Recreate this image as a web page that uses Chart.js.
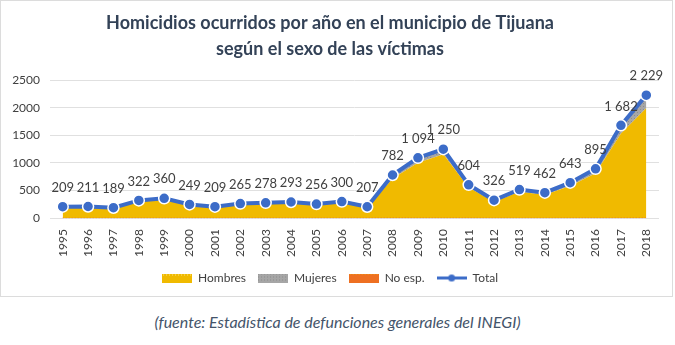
<!DOCTYPE html>
<html>
<head>
<meta charset="utf-8">
<script src="https://cdn.jsdelivr.net/npm/chart.js@4.4.0/dist/chart.umd.min.js"></script>
<style>
  body { margin: 0; background: #fff; font-family: Lato, "Open Sans", sans-serif; }
  #box { position: absolute; left: 0; top: 0; width: 671px; height: 295px; border: 1px solid #dcdcdc; }
  #note { position: absolute; left: 0; top: 312px; width: 675px; text-align: center;
          font-style: italic; font-size: 16px; color: #44546a; }
</style>
</head>
<body>
<div id="box"><canvas id="homicidiosChart" width="671" height="295"></canvas></div>
<div id="note">(fuente: Estadística de defunciones generales del INEGI)</div>
<script>
// --- data ---
const years = ['1995', '1996', '1997', '1998', '1999', '2000', '2001', '2002', '2003', '2004', '2005', '2006',
               '2007', '2008', '2009', '2010', '2011', '2012', '2013', '2014', '2015', '2016', '2017', '2018'];
const total = [209, 211, 189, 322, 360, 249, 209, 265, 278, 293, 256, 300,
               207, 782, 1094, 1250, 604, 326, 519, 462, 643, 895, 1682, 2229];
const hombres = [190, 193, 172, 300, 335, 228, 190, 243, 255, 268, 233, 274,
                 186, 715, 1000, 1155, 550, 294, 478, 420, 580, 810, 1530, 1990];
const mujeres = [18, 17, 16, 20, 23, 19, 17, 20, 21, 23, 21, 24,
                 19, 62, 90, 92, 50, 30, 39, 40, 60, 82, 148, 234];
const noEsp = [1, 1, 1, 2, 2, 2, 2, 2, 2, 2, 2, 2, 2, 5, 4, 3, 4, 2, 2, 2, 3, 3, 4, 5];
const yTicks = [0, 500, 1000, 1500, 2000, 2500];

const GOLD = '#f0ba00';
const GRAY = '#a6a6a6';
const ORANGE = '#ee7022';
const BLUE = '#3c6cc8';
const TEXT = '#404040';
const FONT = 'Lato, "Open Sans", sans-serif';

// dotted gray fill like the excel pattern
function grayPattern() {
    const c = document.createElement('canvas');
    c.width = 3; c.height = 3;
    const g = c.getContext('2d');
    g.fillStyle = GRAY; g.fillRect(0, 0, 3, 3);
    g.fillStyle = '#8c8c8c'; g.fillRect(0, 0, 1, 1);
    return g.createPattern(c, 'repeat');
}

function swatch(draw) {
    const c = document.createElement('canvas');
    c.width = 30; c.height = 9;
    draw(c.getContext('2d'));
    return c;
}
const legendImgs = {
    'Hombres': swatch(g => {
        g.fillStyle = GOLD; g.fillRect(0, 0, 30, 9);
        g.fillStyle = '#ffe680';
        for (let x = 1; x < 30; x += 3) g.fillRect(x, 1, 1, 1);
    }),
    'Mujeres': swatch(g => { g.fillStyle = grayPattern(); g.fillRect(0, 0, 30, 9); }),
    'No esp.': swatch(g => {
        g.fillStyle = ORANGE; g.fillRect(0, 0, 30, 9);
        g.fillStyle = '#f5c000';
        for (let x = 1; x < 30; x += 3) g.fillRect(x, 0, 1, 1);
    }),
    'Total': swatch(g => {
        g.strokeStyle = BLUE; g.lineWidth = 3;
        g.beginPath(); g.moveTo(0, 4.5); g.lineTo(30, 4.5); g.stroke();
        g.fillStyle = BLUE; g.beginPath(); g.arc(15, 4.5, 3.5, 0, Math.PI * 2); g.fill();
    })
};
const legendRank = { 'Hombres': 0, 'Mujeres': 1, 'No esp.': 2, 'Total': 3 };

function fmt(n) {
    return String(n).replace(/\B(?=(\d{3})+(?!\d))/g, ' ');
}

// value labels above the total points
const totalLabels = {
    id: 'totalLabels',
    afterDatasetsDraw(chart) {
        const idx = chart.data.datasets.findIndex(d => d.label === 'Total');
        const meta = chart.getDatasetMeta(idx);
        const ctx = chart.ctx;
        ctx.save();
        ctx.font = '13px ' + FONT;
        ctx.fillStyle = TEXT;
        ctx.textAlign = 'center';
        ctx.textBaseline = 'middle';
        meta.data.forEach((pt, i) => {
            ctx.fillText(fmt(total[i]), pt.x, pt.y - 19);
        });
        ctx.restore();
    }
};

const ctx = document.getElementById('homicidiosChart').getContext('2d');
const chart = new Chart(ctx, {
    type: 'line',
    data: {
        labels: years,
        datasets: [{
            label: 'No esp.',
            data: noEsp,
            stack: 'sexo',
            order: 1,
            backgroundColor: ORANGE,
            borderColor: ORANGE,
            borderWidth: 1,
            borderDash: [1, 2],
            pointRadius: 0,
            tension: 0,
            fill: 'origin'
        }, {
            label: 'Hombres',
            data: hombres,
            stack: 'sexo',
            order: 1,
            backgroundColor: GOLD,
            borderWidth: 0,
            pointRadius: 0,
            tension: 0,
            fill: '-1'
        }, {
            label: 'Mujeres',
            data: mujeres,
            stack: 'sexo',
            order: 1,
            backgroundColor: grayPattern(),
            borderWidth: 0,
            pointRadius: 0,
            tension: 0,
            fill: '-1'
        }, {
            label: 'Total',
            data: total,
            stack: 'total',
            order: 0,
            borderColor: BLUE,
            backgroundColor: BLUE,
            borderWidth: 4,
            pointRadius: 5.5,
            pointBorderColor: '#ffffff',
            pointBorderWidth: 1.5,
            pointBackgroundColor: BLUE,
            tension: 0,
            fill: false
        }]
    },
    options: {
        responsive: false,
        animation: false,
        layout: { padding: { left: 0, right: 13, top: 0, bottom: 2 } },
        scales: {
            x: {
                offset: true,
                grid: { display: false },
                border: { display: false },
                ticks: {
                    color: TEXT,
                    font: { size: 12, family: FONT },
                    minRotation: 90, maxRotation: 90,
                    autoSkip: false,
                    padding: 3
                }
            },
            y: {
                stacked: true,
                min: 0,
                max: 2500,
                afterBuildTicks: s => { s.ticks = yTicks.map(v => ({ value: v })); },
                afterFit: s => { s.width = 49; },
                grid: { color: '#e0e0e0', drawTicks: false },
                border: { display: false },
                ticks: {
                    color: TEXT,
                    padding: 10,
                    font: { size: 12, family: FONT },
                    callback: v => String(v)
                }
            }
        },
        plugins: {
            tooltip: { enabled: false },
            title: {
                display: true,
                text: ['Homicidios ocurridos por año en el municipio de Tijuana',
                       'según el sexo de las víctimas'],
                color: '#334257',
                font: { size: 18, weight: 'bold', family: FONT, lineHeight: 1.45 },
                padding: { top: 9, bottom: 18 }
            },
            legend: {
                position: 'bottom',
                labels: {
                    usePointStyle: true,
                    pointStyleWidth: 30,
                    boxHeight: 9,
                    padding: 12,
                    color: TEXT,
                    font: { size: 12, family: FONT },
                    sort: (a, b) => legendRank[a.text] - legendRank[b.text],
                    generateLabels: function (c) {
                        const items = Chart.defaults.plugins.legend.labels.generateLabels(c);
                        items.forEach(it => { it.pointStyle = legendImgs[it.text]; });
                        return items;
                    }
                }
            }
        }
    },
    plugins: [totalLabels]
});
</script>
</body>
</html>
